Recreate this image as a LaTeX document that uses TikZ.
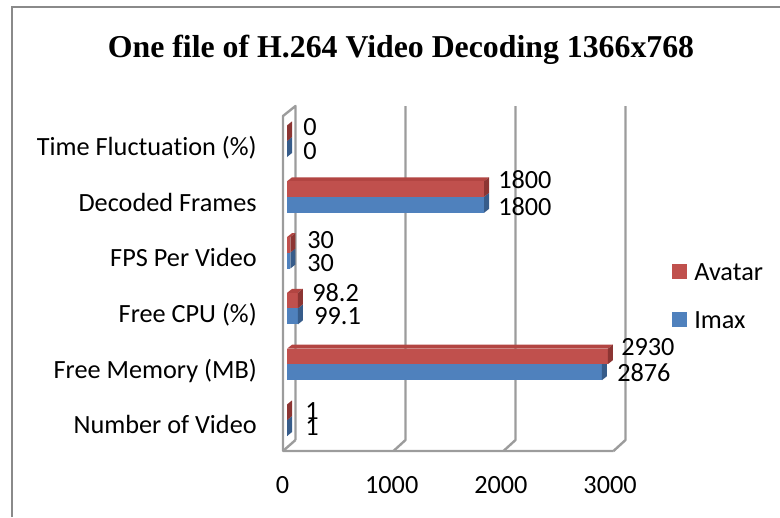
\documentclass[tikz,border=0pt]{standalone}
\usepackage{fontspec}
\setmainfont{Carlito}[Ligatures={NoCommon}]
\newfontfamily\titlefont{Liberation Serif}
\definecolor{avfront}{HTML}{C0504D}
\definecolor{avtop}{HTML}{B24542}
\definecolor{avside}{HTML}{8C3533}
\definecolor{imfront}{HTML}{4F81BD}
\definecolor{imside}{HTML}{375C8A}
\definecolor{wallgray}{HTML}{9C9C9C}
\definecolor{framegray}{HTML}{8A8A8A}
\begin{document}
\begin{tikzpicture}[x=0.75pt,y=-0.75pt,
  frameline/.style={draw=framegray, line width=1.1pt},
  wall/.style={draw=wallgray, line width=1.8pt, line join=round},
  lbl/.style={font=\fontsize{19.7}{23}\selectfont, inner sep=0pt},
  ttl/.style={font=\titlefont\bfseries\fontsize{23.85}{28}\selectfont, inner sep=0pt}]
\useasboundingbox (0,0) rectangle (780,517);
% frame
\draw[frameline] (12,517) -- (12,7) -- (780,7);
% title
\node[ttl, anchor=base] (title) at (401,57) {One file of H.264 Video Decoding 1366x768};
% back gridlines and walls
\foreach \gx in {405.5,515.5,625.5} {
  \draw[wall] (\gx,106) -- (\gx,440) -- (\gx-12,451);
}
\draw[wall] (295.5,440) -- (295.5,106) -- (283,116) -- (283,451) -- (613.5,451);
\draw[wall] (295.5,440) -- (283,451);
% bars
\foreach \yc/\va/\vb in {141/0/0, 196.8/1800/1800, 252.6/30/30, 308.4/98.2/99.1, 364.2/2930/2876, 420/1/1} {
  \pgfmathsetmacro\xa{287+0.1095*\va}
  \pgfmathsetmacro\xb{287+0.1095*\vb}
  \fill[imfront] (287,\yc) rectangle (\xb,\yc+16);
  \fill[imside] (\xb,\yc) -- (\xb+5,\yc-4) -- (\xb+5,\yc+12) -- (\xb,\yc+16) -- cycle;
  \fill[avtop] (287,\yc-15.5) -- (292,\yc-19.5) -- (\xa+5,\yc-19.5) -- (\xa,\yc-15.5) -- cycle;
  \fill[avfront] (287,\yc-15.5) rectangle (\xa,\yc);
  \fill[avside] (\xa,\yc-15.5) -- (\xa+5,\yc-19.5) -- (\xa+5,\yc-4) -- (\xa,\yc) -- cycle;
}
% category labels
\node[lbl, anchor=base east] (c1) at (257,155.5) {Time Fluctuation (\%)};
\node[lbl, anchor=base east] (c2) at (257,211.5) {Decoded Frames};
\node[lbl, anchor=base east] (c3) at (257,266.5) {FPS Per Video};
\node[lbl, anchor=base east] (c4) at (257,322.5) {Free CPU (\%)};
\node[lbl, anchor=base east] (c5) at (257,378.5) {Free Memory (MB)};
\node[lbl, anchor=base east] (c6) at (257,433.5) {Number of Video};
% data labels
\node[lbl, anchor=base west] (a1) at (303,135) {0};
\node[lbl, anchor=base west] (b1) at (303,159) {0};
\node[lbl, anchor=base west] (a2) at (498,188.5) {1800};
\node[lbl, anchor=base west] (b2) at (498,215.5) {1800};
\node[lbl, anchor=base west] (a3) at (307,248) {30};
\node[lbl, anchor=base west] (b3) at (307,271) {30};
\node[lbl, anchor=base west] (a4) at (312,301.5) {98.2};
\node[lbl, anchor=base west] (b4) at (314,324.5) {99.1};
\node[lbl, anchor=base west] (a5) at (621,355.5) {2930};
\node[lbl, anchor=base west] (b5) at (617,381.5) {2876};
\node[lbl, anchor=base west] (a6) at (305,419.5) {1};
\node[lbl, anchor=base west] (b6) at (305,435) {1};
% axis tick labels
\node[lbl, anchor=base] (t0) at (282.5,493) {0};
\node[lbl, anchor=base] (t1) at (391.7,493) {1000};
\node[lbl, anchor=base] (t2) at (500.9,493) {2000};
\node[lbl, anchor=base] (t3) at (610.1,493) {3000};
% legend
\fill[avfront] (672,264) rectangle (687,279);
\node[lbl, anchor=base west] (lav) at (694,280.5) {Avatar};
\fill[imfront] (672,312) rectangle (687,327);
\node[lbl, anchor=base west] (lim) at (694,328.5) {Imax};
\end{tikzpicture}
\end{document}
